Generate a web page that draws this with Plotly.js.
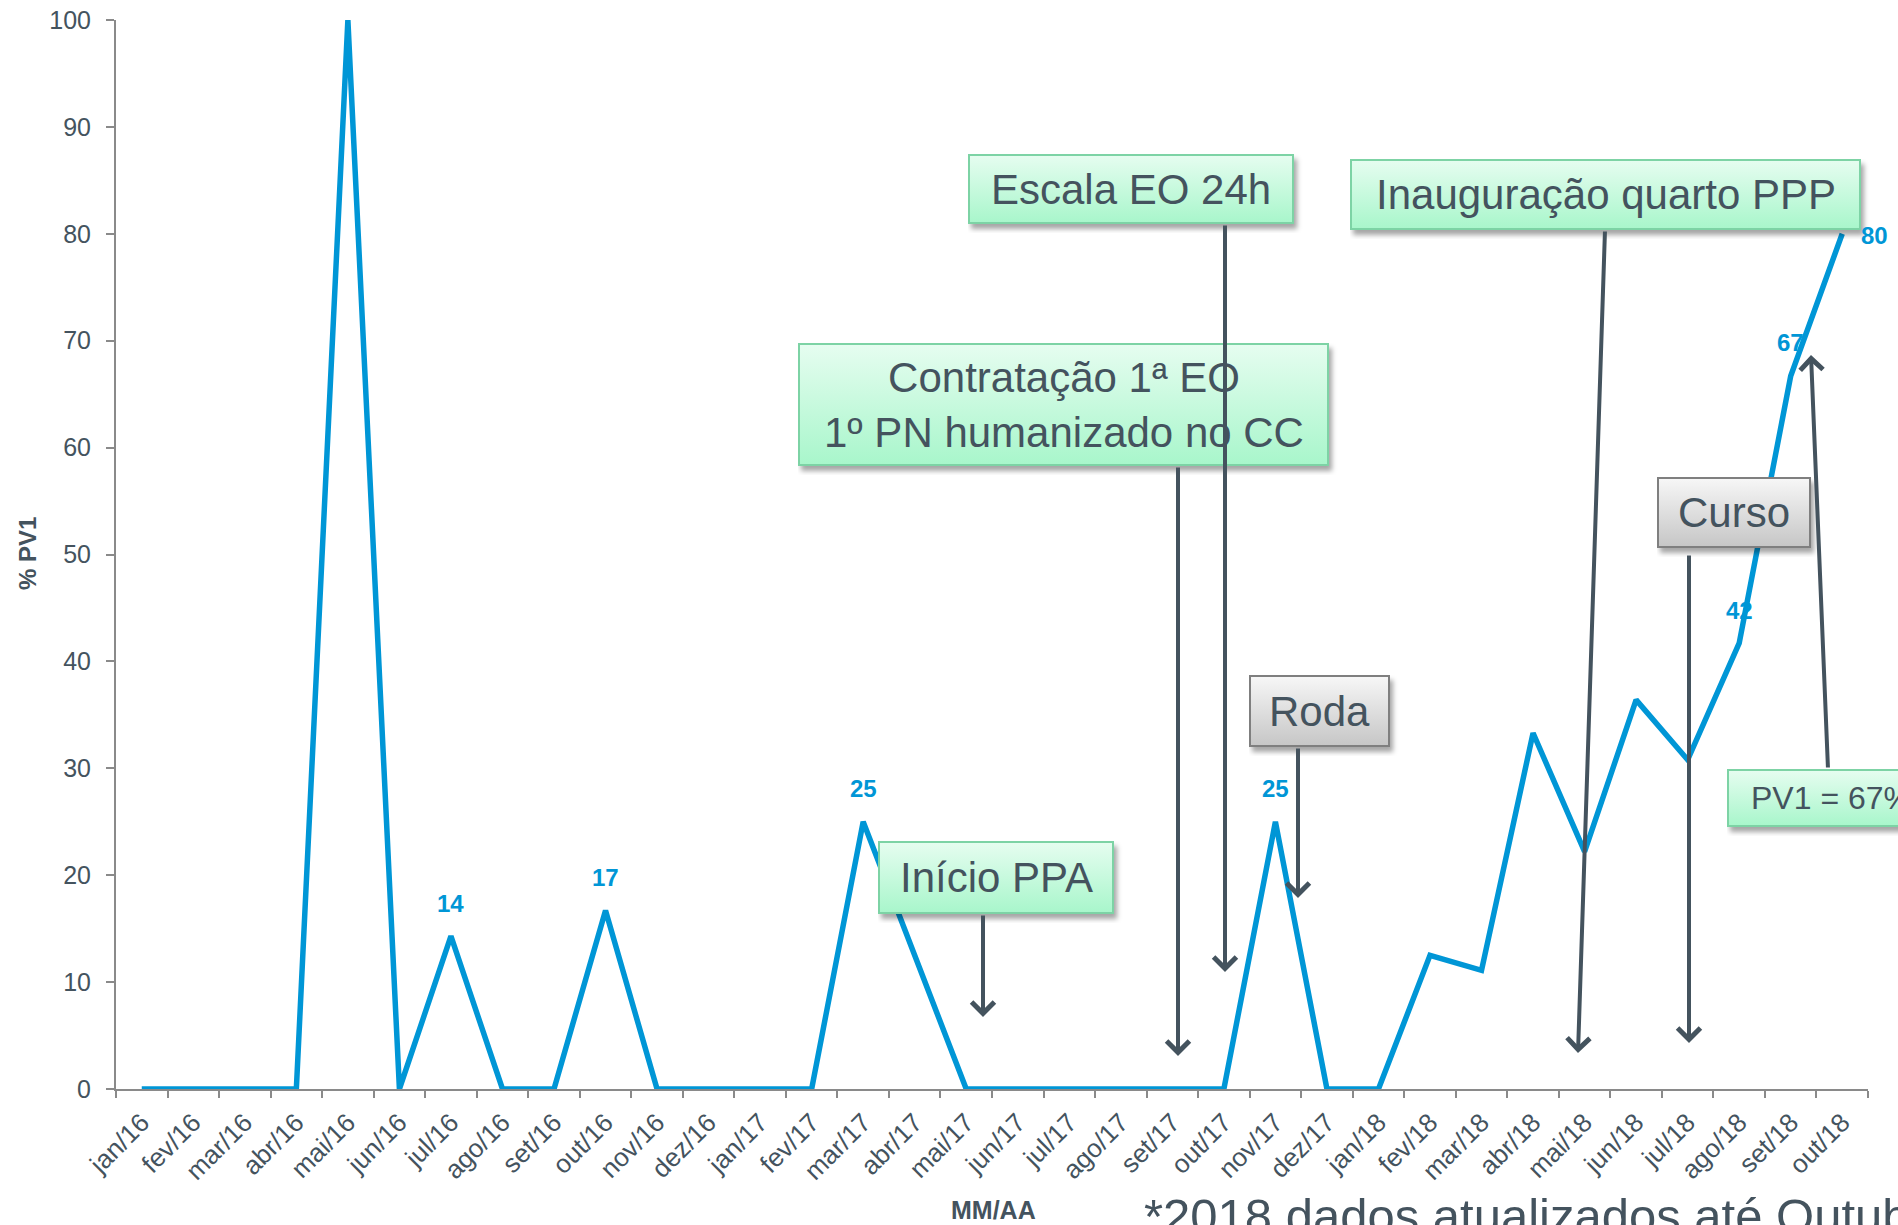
<!DOCTYPE html>
<html>
<head>
<meta charset="utf-8">
<script src="https://cdn.plot.ly/plotly-3.0.1.min.js"></script>
<style>
  html, body { margin: 0; padding: 0; background: #ffffff; }
  #chart { width: 1898px; height: 1225px; }
</style>
</head>
<body>
<div id="chart"></div>
<script>
// ---- data ----
const months = ['jan/16','fev/16','mar/16','abr/16','mai/16','jun/16','jul/16','ago/16','set/16','out/16','nov/16','dez/16',
                'jan/17','fev/17','mar/17','abr/17','mai/17','jun/17','jul/17','ago/17','set/17','out/17','nov/17','dez/17',
                'jan/18','fev/18','mar/18','abr/18','mai/18','jun/18','jul/18','ago/18','set/18','out/18'];
const pv1 = [0, 0, 0, 0, 100, 0, 14.3, 0, 0, 16.7, 0, 0,
             0, 0, 25, 12.5, 0, 0, 0, 0, 0, 0, 25, 0,
             0, 12.5, 11.1, 33.3, 22.2, 36.4, 30.8, 41.7, 66.7, 80];
const pointLabels = ['', '', '', '', '', '', '14', '', '', '17', '', '',
                     '', '', '25', '', '', '', '', '', '', '', '25', '',
                     '', '', '', '', '', '', '', '42', '67', '80'];
const yTicks = [0, 10, 20, 30, 40, 50, 60, 70, 80, 90, 100];
const events = [
  {text: 'Escala EO 24h'},
  {text: 'Contratação 1ª EO<br>1º PN humanizado no CC'},
  {text: 'Início PPA'},
  {text: 'Roda'},
  {text: 'Inauguração quarto PPP'},
  {text: 'Curso'},
  {text: 'PV1 = 67%'}
];
const yTitle = '% PV1';
const xTitle = 'MM/AA';
const footNote = '*2018 dados atualizados até Outubro';

// ---- layout geometry (pixels) ----
const W = 1898, H = 1225;
const L = 116, R = 1868, T = 20, B = 1089;
const PW = R - L, PH = B - T;
const px = x => (x - L) / PW;
const py = y => (B - y) / PH;

const FONT = 'Arial, "Liberation Sans", sans-serif';
const TXT = '#44535e';
const BLUE = '#0096d6';
const AX = '#8a8a8a';

const GREEN = {top: '#e6fdf0', bot: '#a8f6cb', border: '#7dd3a5'};
const GRAY = {top: '#f7f7f7', bot: '#c6c6c6', border: '#7f7f7f'};

function boxSvg(w, h, c) {
  const pad = 9;
  const svg = `<svg xmlns="http://www.w3.org/2000/svg" width="${w+pad}" height="${h+pad}" viewBox="0 0 ${w+pad} ${h+pad}">` +
    `<defs><linearGradient id="g" x1="0" y1="0" x2="0" y2="1"><stop offset="0" stop-color="${c.top}"/><stop offset="1" stop-color="${c.bot}"/></linearGradient>` +
    `<filter id="f" x="-10%" y="-20%" width="130%" height="160%"><feGaussianBlur stdDeviation="2.5"/></filter></defs>` +
    `<rect x="3" y="5" width="${w}" height="${h}" fill="rgba(0,0,0,0.35)" filter="url(#f)"/>` +
    `<rect x="1" y="1" width="${w-2}" height="${h-2}" fill="url(#g)" stroke="${c.border}" stroke-width="2"/></svg>`;
  return {src: 'data:image/svg+xml;charset=utf-8,' + encodeURIComponent(svg), pad: pad};
}

const images = [];
const annotations = [];

function addBox(ev, x0, y0, x1, y1, c, fs) {
  const w = x1 - x0, h = y1 - y0;
  const b = boxSvg(w, h, c);
  images.push({source: b.src, xref: 'paper', yref: 'paper', x: px(x0), y: py(y0),
               sizex: (w + b.pad) / PW, sizey: (h + b.pad) / PH, xanchor: 'left', yanchor: 'top',
               sizing: 'stretch', layer: 'above'});
  annotations.push({xref: 'paper', yref: 'paper', x: px((x0 + x1) / 2), y: py((y0 + y1) / 2),
                    xanchor: 'center', yanchor: 'middle', showarrow: false, text: ev.text,
                    font: {family: FONT, size: fs, color: TXT}});
}

function addArrow(tx, ty, hx, hy) {
  annotations.push({xref: 'paper', yref: 'paper', x: px(hx), y: py(hy), ax: tx - hx, ay: ty - hy,
                    text: '', showarrow: true, arrowhead: 4, arrowsize: 1.1, arrowwidth: 4,
                    arrowcolor: '#44535e', standoff: 0, startstandoff: 0});
}

// boxes
addBox(events[0], 968, 154, 1294, 224, GREEN, 42);
addBox(events[1], 798, 343, 1329, 466, GREEN, 42);
addBox(events[2], 878, 841, 1114, 914, GREEN, 42);
addBox(events[3], 1249, 675, 1390, 747, GRAY, 42);
addBox(events[4], 1350, 159, 1861, 230, GREEN, 42);
addBox(events[5], 1657, 477, 1811, 548, GRAY, 42);
addBox(events[6], 1727, 769, 1935, 827, GREEN, 32);

// arrows (tail -> head)
addArrow(1178, 466, 1178, 1056);
addArrow(1225, 224, 1225, 972);
addArrow(983, 914, 983, 1017);
addArrow(1298, 747, 1298, 898);
addArrow(1605, 230, 1578, 1053);
addArrow(1689, 554, 1689, 1043);
addArrow(1828, 769, 1811, 355);

// data labels built from the arrays
pv1.forEach((v, i) => {
  if (!pointLabels[i]) return;
  const last = i === pv1.length - 1;
  annotations.push({x: months[i], y: v, xref: 'x', yref: 'y', text: pointLabels[i], showarrow: false,
                    xanchor: 'center', yanchor: 'middle',
                    xshift: last ? 32 : 0, yshift: last ? -2 : 33,
                    font: {family: FONT, size: 24, color: BLUE, weight: 'bold'}});
});

// axis titles & footnote
annotations.push({xref: 'paper', yref: 'paper', x: px(993), y: py(1210), xanchor: 'center', yanchor: 'middle',
                  showarrow: false, text: xTitle, font: {family: FONT, size: 25, color: TXT, weight: 'bold'}});
annotations.push({xref: 'paper', yref: 'paper', x: px(27), y: py(554), xanchor: 'center', yanchor: 'middle',
                  textangle: -90, showarrow: false, text: yTitle, font: {family: FONT, size: 24, color: TXT, weight: 'bold'}});
annotations.push({xref: 'paper', yref: 'paper', x: px(1142), y: py(1187), xanchor: 'left', yanchor: 'top',
                  showarrow: false, text: footNote, font: {family: FONT, size: 49, color: TXT}});

const trace = {
  type: 'scatter', mode: 'lines', x: months, y: pv1,
  line: {color: BLUE, width: 5.5}, hoverinfo: 'x+y', showlegend: false
};

const layout = {
  width: W, height: H,
  margin: {l: L, r: W - R, t: T, b: H - B, pad: 0},
  paper_bgcolor: '#ffffff', plot_bgcolor: '#ffffff',
  font: {family: FONT, color: TXT},
  showlegend: false,
  xaxis: {
    type: 'category', range: [-0.5, months.length - 0.5], tickson: 'boundaries',
    showline: true, linecolor: AX, linewidth: 2, ticks: 'outside', ticklen: 7, tickwidth: 2, tickcolor: AX,
    showgrid: false, zeroline: false, tickangle: -45, ticklabelstandoff: 6,
    tickfont: {family: FONT, size: 26, color: TXT}
  },
  yaxis: {
    range: [0, 100], tickvals: yTicks, ticktext: yTicks.map(String),
    showline: true, linecolor: AX, linewidth: 2, ticks: 'outside', ticklen: 8, tickwidth: 2, tickcolor: AX,
    showgrid: false, zeroline: false, ticklabelstandoff: 10,
    tickfont: {family: FONT, size: 25, color: TXT}
  },
  images: images,
  annotations: annotations
};

Plotly.newPlot('chart', [trace], layout, {displayModeBar: false, staticPlot: true});
</script>
</body>
</html>
